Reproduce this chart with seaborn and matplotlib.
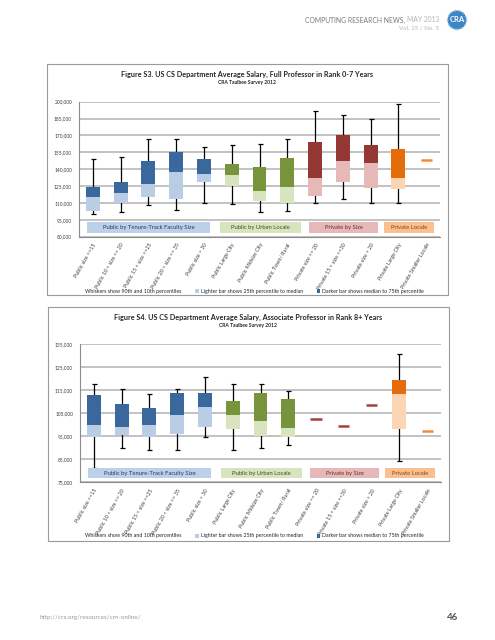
import numpy as np
import pandas as pd
import seaborn as sns
import matplotlib.pyplot as plt
from matplotlib.patches import Rectangle, Ellipse, Patch

# categories on the x axis (same for both figures)
categories = ["Public size <=15", "Public 10 < size <= 20", "Public 15 < size <=25",
              "Public 20 < size <= 35", "Public size > 30", "Public Large City",
              "Public Midsize City", "Public Town/ Rural", "Private size <= 20",
              "Private 15 < size <=30", "Private size > 20", "Private Large City",
              "Private Smaller Locale"]
groups = ["Public by Tenure-Track Faculty Size", "Public by Urban Locale",
          "Private by Size", "Private Locale"]
group_of = [0, 0, 0, 0, 0, 1, 1, 1, 2, 2, 2, 3, 3]

nan = np.nan
# Figure S3 - Full Professor in Rank 0-7 Years
s3_p10 = [100200, 101600, 107900, 103400, 109900, 108700, 101600, 103100, 109600, 113500, 109600, 109600, nan]
s3_q25 = [103100, 110200, 115600, 113800, 128900, 125300, 112000, 109600, 116200, 128900, 123600, 122700, nan]
s3_med = [115000, 118500, 126800, 137500, 135700, 135100, 120600, 124200, 132200, 147300, 145500, 132200, nan]
s3_q75 = [124400, 128900, 147300, 155600, 149000, 144600, 141900, 149900, 164200, 170400, 161500, 157900, nan]
s3_p90 = [148700, 150500, 166500, 166500, 159400, 161200, 162100, 166500, 191700, 187900, 184600, 197600, nan]
s3_single = [nan, nan, nan, nan, nan, nan, nan, nan, nan, nan, nan, nan, 148200]

# Figure S4 - Associate Professor in Rank 8+ Years
s4_p10 = [81100, 89800, 88900, 88900, 94900, 88900, 89800, 91200, nan, nan, nan, 84300, nan]
s4_q25 = [94600, 95400, 94600, 96000, 98900, 98300, 95300, 94600, nan, nan, nan, 98300, nan]
s4_med = [99800, 99100, 99800, 104300, 107900, 104100, 101500, 98800, nan, nan, nan, 113400, nan]
s4_q75 = [112800, 108900, 107200, 113700, 113700, 110500, 113700, 111200, nan, nan, nan, 119500, nan]
s4_p90 = [117800, 115400, 113600, 115700, 121000, 117600, 117600, 114600, nan, nan, nan, 130900, nan]
s4_single = [nan, nan, nan, nan, nan, nan, nan, nan, 102700, 99600, 108500, nan, 97300]

dark = ["#3a689c", "#77933c", "#953735", "#e46c0a"]
light = ["#b9cde5", "#d7e4bd", "#e6b9b8", "#fcd5b5"]
dash_col = ["#3a689c", "#77933c", "#a5403d", "#f08a3a"]
box_col = ["#bcd0ea", "#d7e4bd", "#e6b9b8", "#fac090"]
box_txt = ["#1f3a60", "#3d4d1e", "#6a2a28", "#8a4208"]
box_span = [(-0.2, 4.2), (4.57, 7.49), (7.8, 10.25), (10.5, 12.3)]

sns.set_style("white")
plt.rcParams['font.family'] = ['Lato', 'DejaVu Sans']

W, H = 495, 640
fig = plt.figure(figsize=(W / 100, H / 100), dpi=100)


def fx(px):
    return px / W


def fy(py):
    return 1 - py / H


def draw_chart(ax, p10, q25, med, q75, p90, single, ylim, box_y):
    pos = np.arange(len(categories))
    q25a, meda, q75a = [np.nan_to_num(np.array(v, float)) for v in (q25, med, q75)]
    # whiskers (10th-90th percentile)
    p10a, p90a = np.array(p10, float), np.array(p90, float)
    ok = ~np.isnan(p10a)
    ax.errorbar(pos[ok], meda[ok], yerr=[meda[ok] - p10a[ok], p90a[ok] - meda[ok]],
                fmt='none', ecolor='black', elinewidth=0.9, capsize=1.8, capthick=0.9, zorder=2)
    n0 = len(ax.patches)
    sns.barplot(x=categories, y=meda - q25a, bottom=q25a, width=0.5, errorbar=None,
                color="#888888", saturation=1, linewidth=0, ax=ax, zorder=3)
    sns.barplot(x=categories, y=q75a - meda, bottom=meda, width=0.5, errorbar=None,
                color="#888888", saturation=1, linewidth=0, ax=ax, zorder=3)
    cols = [light[g] for g in group_of] + [dark[g] for g in group_of]
    for p, c in zip(ax.patches[n0:], cols):
        p.set_facecolor(c)
    # single-value categories shown as a dash
    sv = np.array(single, float)
    for x, v in zip(pos, sv):
        if not np.isnan(v):
            ax.hlines(v, x - 0.2, x + 0.2, color=dash_col[group_of[x]], lw=1.8, zorder=3)

    # group label boxes (sit on top of the whiskers)
    for (a, b), g in zip(box_span, range(4)):
        ax.add_patch(Rectangle((a, box_y[0]), b - a, box_y[1] - box_y[0],
                               facecolor=box_col[g], edgecolor='none', zorder=2.5))
        ax.text((a + b) / 2, (box_y[0] + box_y[1]) / 2, groups[g], ha='center', va='center',
                fontsize=4.2, color=box_txt[g], zorder=4)

    ax.set_xlim(-0.5, len(categories) - 0.5)
    ax.set_ylim(ylim[0], ylim[1])
    ticks = np.arange(ylim[0], ylim[1] + 1, ylim[2])
    ax.set_yticks(ticks)
    ax.set_yticklabels([f"{t:,}" for t in ticks], fontsize=3.5, color="#404040")
    ax.yaxis.grid(True, color="#bdbdbd", lw=1.3)
    ax.set_axisbelow(True)
    ax.set_xticks(pos)
    ax.set_xticklabels(categories, rotation=60, ha='right', va='top', rotation_mode='anchor',
                       fontsize=3.9, color="#404040")
    ax.set_xticks(np.arange(-0.5, len(categories)), minor=True)
    ax.tick_params(axis='x', which='major', length=0, pad=4)
    ax.tick_params(axis='x', which='minor', length=2.5, width=0.6, color="#8c8c8c", direction='out')
    ax.tick_params(axis='y', length=2.5, width=0.6, color="#8c8c8c", direction='out', pad=2.5)
    for s in ['top', 'right']:
        ax.spines[s].set_visible(False)
    for s in ['left', 'bottom']:
        ax.spines[s].set_color("#8c8c8c")
        ax.spines[s].set_linewidth(0.8)
    ax.set_xlabel("")
    ax.set_ylabel("")


def frame(x0, y0, x1, y1):
    fig.patches.append(Rectangle((fx(x0), fy(y1)), fx(x1 - x0), (y1 - y0) / H,
                                 transform=fig.transFigure, facecolor='none',
                                 edgecolor="#9a9a9a", lw=0.8, zorder=0))


def legend(ax, ypx):
    handles = [Patch(facecolor='none', edgecolor='none'),
               Patch(facecolor=light[0], edgecolor='none'),
               Patch(facecolor=dark[0], edgecolor='none')]
    labels = ["Whiskers show 90th and 10th percentiles",
              "Lighter bar shows 25th percentile to median",
              "Darker bar shows median to 75th percentile"]
    ax.legend(handles, labels, ncol=3, loc='center left', bbox_to_anchor=(fx(79), fy(ypx)),
              bbox_transform=fig.transFigure, frameon=False, fontsize=3.8,
              handlelength=0.7, handleheight=0.7, handletextpad=0.4, columnspacing=2.6,
              borderpad=0, borderaxespad=0)


# Figure S3
frame(46.5, 64, 448, 295)
ax1 = fig.add_axes([fx(79), fy(236.7), fx(361), 135 / H])
draw_chart(ax1, s3_p10, s3_q25, s3_med, s3_q75, s3_p90, s3_single,
           (80000, 200000, 15000), (83500, 92700))
legend(ax1, 291)
fig.text(fx(247), fy(74.7), "Figure S3. US CS Department Average Salary, Full Professor in Rank 0-7 Years",
         ha='center', va='center', fontsize=5.25, fontweight='bold')
fig.text(fx(247), fy(82.7), "CRA Taulbee Survey 2012", ha='center', va='center',
         fontsize=3.6, fontweight='bold')

# Figure S4
frame(47.5, 307, 448.5, 541)
ax2 = fig.add_axes([fx(80), fy(482.3), fx(361), 138 / H])
draw_chart(ax2, s4_p10, s4_q25, s4_med, s4_q75, s4_p90, s4_single,
           (75000, 135000, 10000), (76750, 81100))
legend(ax2, 536)
fig.text(fx(248), fy(317), "Figure S4. US CS Department Average Salary, Associate Professor in Rank 8+ Years",
         ha='center', va='center', fontsize=5.25, fontweight='bold')
fig.text(fx(248), fy(325), "CRA Taulbee Survey 2012", ha='center', va='center',
         fontsize=3.6, fontweight='bold')

# page header / footer
may = fig.text(fx(439), fy(20), "MAY 2013", ha='right', va='center', fontsize=4.9,
               color="#b5b5b5")
renderer = fig.canvas.get_renderer()
may_w = may.get_window_extent(renderer).width
fig.text(fx(439 - may_w - 2), fy(20), "COMPUTING RESEARCH NEWS,", ha='right', va='center',
         fontsize=4.9, color="#7a7a7a")
fig.text(fx(439), fy(28.5), "Vol. 25 / No. 5", ha='right', va='center', fontsize=4.4, color="#b5b5b5")
fig.patches.append(Ellipse((fx(457), fy(20)), fx(19), 19 / H, transform=fig.transFigure,
                           facecolor="#3f86c6", edgecolor="#9cc3e6", lw=1.2, ls=':'))
fig.text(fx(457), fy(20), "CRA", ha='center', va='center', fontsize=5.5, fontweight='bold',
         color='white')
fig.text(fx(40), fy(618), "http://cra.org/resources/crn-online/", ha='left', va='center',
         fontsize=4.5, color="#9a9a9a")
fig.text(fx(458), fy(618), "46", ha='right', va='center', fontsize=7, fontweight='bold',
         color="#555555")

fig.savefig("out.png", dpi=100)
